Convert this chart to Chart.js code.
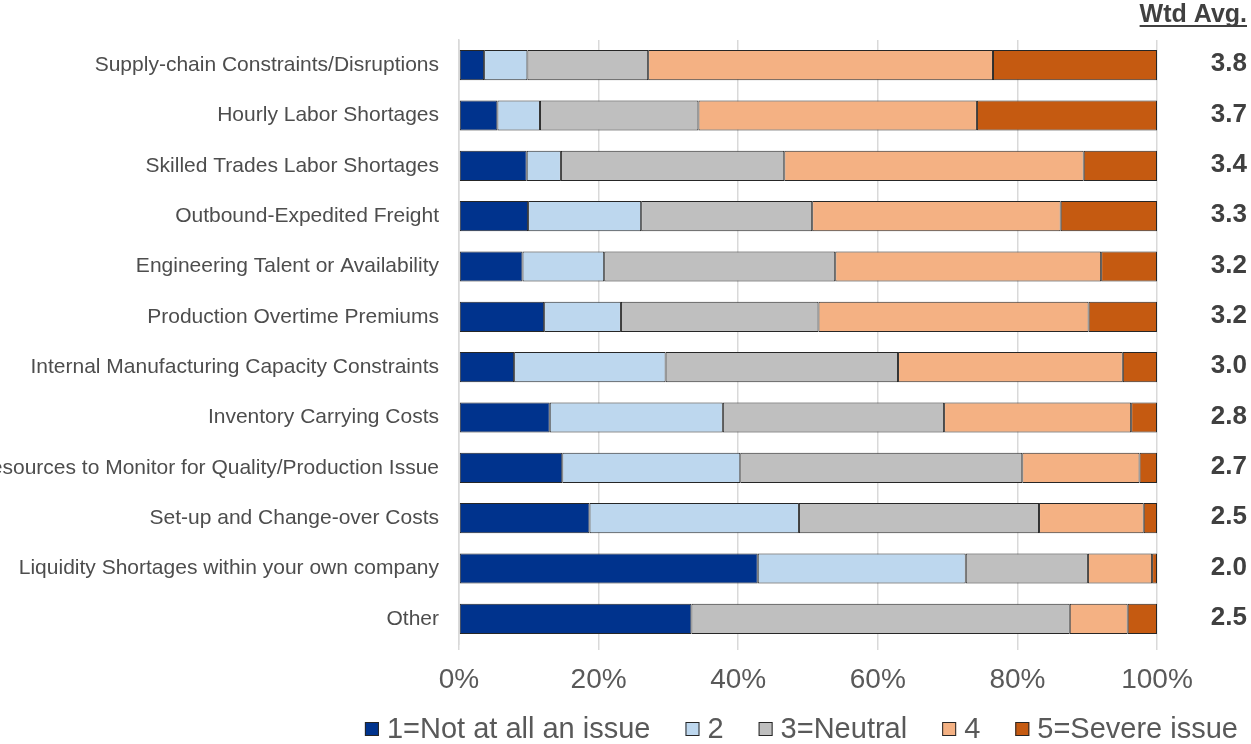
<!DOCTYPE html>
<html>
<head>
<meta charset="utf-8">
<script src="https://cdn.jsdelivr.net/npm/chart.js@4.4.1/dist/chart.umd.min.js"></script>
<style>
  html, body { margin: 0; padding: 0; background: #fff; }
  #wrap { width: 1251px; height: 744px; }
</style>
</head>
<body>
<div id="wrap"><canvas id="issuesChart"></canvas></div>
<script>
const categories = [
    'Supply-chain Constraints/Disruptions',
    'Hourly Labor Shortages',
    'Skilled Trades Labor Shortages',
    'Outbound-Expedited Freight',
    'Engineering Talent or Availability',
    'Production Overtime Premiums',
    'Internal Manufacturing Capacity Constraints',
    'Inventory Carrying Costs',
    'Resources to Monitor for Quality/Production Issue',
    'Set-up and Change-over Costs',
    'Liquidity Shortages within your own company',
    'Other'
];

const seriesNames = ['1=Not at all an issue', '2', '3=Neutral', '4', '5=Severe issue'];

// share of responses (%) for each rating
const notAnIssue = [3.6, 5.5, 9.7, 9.9, 9.1, 12.2, 7.9, 13.0, 14.8, 18.7, 42.8, 33.3];
const rating2    = [6.2, 6.1, 4.9, 16.2, 11.7, 11.0, 21.7, 24.8, 25.5, 30.0, 29.8, 0];
const neutral    = [17.3, 22.7, 32.0, 24.5, 33.1, 28.3, 33.3, 31.7, 40.4, 34.4, 17.5, 54.2];
const rating4    = [49.4, 39.9, 42.9, 35.6, 38.1, 38.7, 32.2, 26.8, 16.8, 15.0, 9.2, 8.3];
const severe     = [23.5, 25.8, 10.5, 13.8, 8.0, 9.8, 4.9, 3.7, 2.5, 1.9, 0.7, 4.2];

const wtdAvg = ['3.8', '3.7', '3.4', '3.3', '3.2', '3.2', '3.0', '2.8', '2.7', '2.5', '2.0', '2.5'];

const xTicks = [0, 20, 40, 60, 80, 100];

const colors = ['#00338D', '#BDD7EE', '#BFBFBF', '#F4B183', '#C55A11'];
const FONT = "'Liberation Sans', Arial, sans-serif";

// weighted average column on the right, with its underlined header
const wtdAvgColumn = {
    id: 'wtdAvgColumn',
    afterDraw(chart) {
        const ctx = chart.ctx;
        const y = chart.scales.y;
        const right = 1247;
        ctx.save();
        ctx.fillStyle = '#404040';
        ctx.textAlign = 'right';
        ctx.font = 'bold 25px ' + FONT;
        ctx.textBaseline = 'alphabetic';
        const title = 'Wtd Avg.';
        ctx.fillText(title, right, 22);
        const w = ctx.measureText(title).width;
        ctx.fillRect(right - w, 25, w, 2);

        ctx.font = 'bold 26px ' + FONT;
        ctx.textBaseline = 'middle';
        wtdAvg.forEach((v, i) => {
            ctx.fillText(v, right, y.getPixelForValue(i) - 1);
        });
        ctx.restore();
    }
};

// single-row legend under the axis, right aligned
const bottomLegend = {
    id: 'bottomLegend',
    afterDraw(chart) {
        const ctx = chart.ctx;
        const box = 14, gapText = 8, gapItem = 35, right = 1238, cy = 729;
        ctx.save();
        ctx.font = '29px ' + FONT;
        const items = chart.data.datasets.map(ds => ({
            text: ds.label,
            color: ds.backgroundColor,
            w: box + gapText + ctx.measureText(ds.label).width
        }));
        const total = items.reduce((a, it) => a + it.w, 0) + gapItem * (items.length - 1);
        let x = right - total;
        ctx.textBaseline = 'middle';
        ctx.textAlign = 'left';
        items.forEach(it => {
            ctx.fillStyle = it.color;
            ctx.fillRect(x, cy - box / 2, box, box);
            ctx.strokeStyle = '#262626';
            ctx.lineWidth = 1;
            ctx.strokeRect(x + 0.5, cy - box / 2 + 0.5, box - 1, box - 1);
            ctx.fillStyle = '#595959';
            ctx.fillText(it.text, x + box + gapText, cy + 1);
            x += it.w + gapItem;
        });
        ctx.restore();
    }
};

const ctx = document.getElementById('issuesChart').getContext('2d');
new Chart(ctx, {
    type: 'bar',
    data: {
        labels: categories,
        datasets: [notAnIssue, rating2, neutral, rating4, severe].map((d, i) => ({
            label: seriesNames[i],
            data: d,
            backgroundColor: colors[i],
            borderColor: '#262626',
            borderWidth: 1,
            borderSkipped: false,
            categoryPercentage: 1,
            barPercentage: 0.6
        }))
    },
    options: {
        indexAxis: 'y',
        responsive: true,
        maintainAspectRatio: false,
        animation: false,
        layout: { padding: { top: 40, right: 94, bottom: 40, left: 0 } },
        scales: {
            x: {
                stacked: true,
                min: 0,
                max: 100,
                afterBuildTicks: scale => { scale.ticks = xTicks.map(v => ({ value: v })); },
                afterFit: scale => { scale.height = 60; },
                grid: { color: '#D9D9D9', lineWidth: 1.5, tickLength: 6 },
                border: { display: false },
                ticks: {
                    color: '#595959',
                    font: { family: FONT, size: 28 },
                    padding: 13,
                    callback: v => v + '%'
                }
            },
            y: {
                stacked: true,
                afterFit: scale => { scale.width = 459; },
                grid: { display: false },
                border: { display: true, color: '#D9D9D9', width: 1.5 },
                ticks: {
                    color: '#4D4D4D',
                    font: { family: FONT, size: 21 },
                    padding: 12
                }
            }
        },
        plugins: {
            legend: { display: false },
            tooltip: { enabled: false }
        }
    },
    plugins: [wtdAvgColumn, bottomLegend]
});
</script>
</body>
</html>
